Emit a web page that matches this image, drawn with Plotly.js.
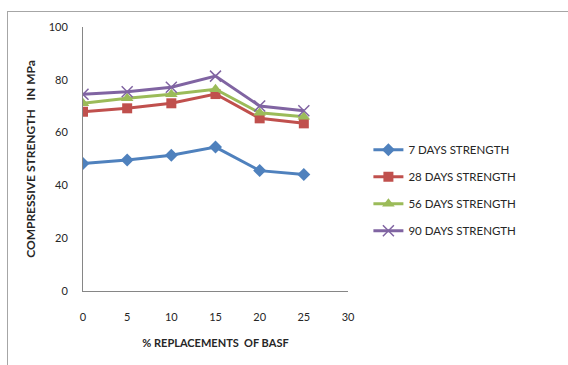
<!DOCTYPE html>
<html><head><meta charset="utf-8">
<script src="https://cdn.plot.ly/plotly-3.0.1.min.js"></script>
<style>
html,body{margin:0;padding:0;background:#fff;}
#wrap{position:relative;width:568px;height:365px;overflow:hidden;}
#frame{position:absolute;left:7px;top:11px;width:600px;height:400px;border:1px solid #a6a6a6;pointer-events:none;}
#chart{position:absolute;left:0;top:0;width:568px;height:365px;}
</style></head>
<body>
<div id="wrap"><div id="chart"></div><div id="frame"></div></div>
<script>
const replacement = [0, 5, 10, 15, 20, 25];
const days7  = [48.3, 49.6, 51.4, 54.5, 45.6, 44.1];
const days28 = [67.9, 69.2, 71.1, 74.6, 65.4, 63.5];
const days56 = [71.1, 73.0, 74.5, 76.4, 67.5, 66.0];
const days90 = [74.5, 75.5, 77.2, 81.4, 70.1, 68.3];
const seriesNames = ['7 DAYS STRENGTH', '28 DAYS STRENGTH', '56 DAYS STRENGTH', '90 DAYS STRENGTH'];
const xTicks = [0, 5, 10, 15, 20, 25, 30];
const yTicks = [0, 20, 40, 60, 80, 100];

const colors = ['#4F81BD', '#C0504D', '#9BBB59', '#8064A2'];
const symbols = ['diamond', 'square', 'triangle-up', 'x-thin-open'];
const sizes = [10, 10, 11, 11];
const data = [days7, days28, days56, days90].map((ys, i) => ({
  x: replacement, y: ys, name: seriesNames[i], type: 'scatter', mode: 'lines+markers',
  legendgroup: 'g' + i,
  line: {color: colors[i], width: 3},
  marker: {symbol: symbols[i], size: sizes[i], color: colors[i], line: {color: colors[i], width: i === 3 ? 1.5 : 0}}
}));

const fam = 'Lato, "Open Sans", sans-serif';
const font = {family: fam, size: 11, color: '#262626'};
const layout = {
  width: 568, height: 365,
  margin: {l: 83, r: 220, t: 27, b: 74},
  paper_bgcolor: '#fff', plot_bgcolor: '#fff',
  font: font,
  showlegend: true,
  legend: {x: 1.077, y: 0.59, xanchor: 'left', yanchor: 'top', tracegroupgap: 8,
           font: {family: fam, size: 11.5, color: '#262626'}, itemwidth: 30},
  xaxis: {range: [0, 30], tickvals: xTicks, ticktext: xTicks.map(String), showgrid: false, zeroline: false,
          showline: true, linecolor: '#868686', linewidth: 1, ticks: '', ticklabelstandoff: 16,
          tickfont: font,
          title: {text: '<b>% REPLACEMENTS  OF BASF</b>', font: {family: fam, size: 11, color: '#262626'}, standoff: 17}},
  yaxis: {range: [0, 100], tickvals: yTicks, ticktext: yTicks.map(String), showgrid: false, zeroline: false,
          showline: true, linecolor: '#868686', linewidth: 1, ticks: '', ticklabelstandoff: 12,
          tickfont: font,
          title: {text: '<b>COMPRESSIVE STRENGTH   IN MPa</b>', font: {family: fam, size: 12, color: '#262626'}, standoff: 10}}
};
Plotly.newPlot('chart', data, layout, {displayModeBar: false, staticPlot: true});
</script>
</body></html>
